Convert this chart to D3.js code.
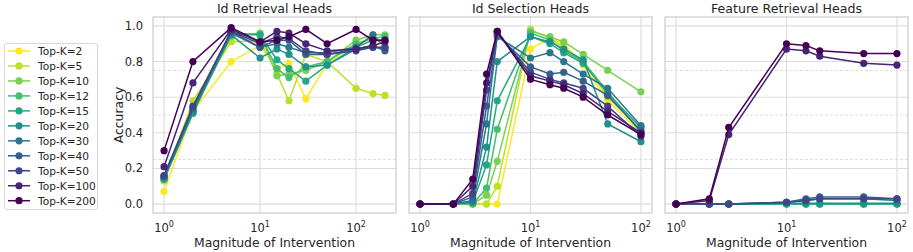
<!DOCTYPE html>
<html>
<head>
<meta charset="utf-8">
<script src="https://cdn.jsdelivr.net/npm/d3@7"></script>
<style>
body{margin:0;background:#fff;}
text{font-family:"DejaVu Sans",sans-serif;fill:#262626;}
</style>
</head>
<body>
<svg id="chart" width="913" height="252"></svg>
<script>
// series labels (legend order)
var topK = ["Top-K=2","Top-K=5","Top-K=10","Top-K=12","Top-K=15","Top-K=20","Top-K=30","Top-K=40","Top-K=50","Top-K=100","Top-K=200"];

// x values (magnitude of intervention) per panel
var xRetrieval = [1,2,5,10,15,20,30,50,100,150,200];
var xSelection = [1,2,3,4,5,10,15,20,30,50,100];
var xFeature   = [1,2,3,10,15,20,50,100];

// accuracy, one row per Top-K
var idRetrieval = [
  [0.07,0.52,0.80,0.89,0.76,0.79,0.59,0.79,0.90,0.92,0.90],
  [0.13,0.58,0.91,0.92,0.73,0.58,0.84,0.80,0.65,0.62,0.61],
  [0.14,0.52,0.94,0.96,0.72,0.73,0.75,0.80,0.92,0.95,0.95],
  [0.14,0.51,0.95,0.95,0.76,0.71,0.77,0.80,0.90,0.93,0.94],
  [0.14,0.51,0.96,0.95,0.81,0.76,0.69,0.78,0.88,0.92,0.92],
  [0.15,0.52,0.95,0.82,0.87,0.84,0.77,0.78,0.87,0.88,0.87],
  [0.15,0.53,0.96,0.88,0.90,0.88,0.85,0.85,0.88,0.95,0.88],
  [0.16,0.54,0.97,0.88,0.92,0.92,0.84,0.84,0.87,0.89,0.86],
  [0.16,0.55,0.97,0.90,0.94,0.93,0.86,0.84,0.86,0.88,0.88],
  [0.21,0.68,0.98,0.91,0.97,0.96,0.90,0.86,0.87,0.89,0.91],
  [0.30,0.80,0.99,0.91,0.92,0.94,0.98,0.90,0.98,0.92,0.92]
];
var idSelection = [
  [0,0,0,0,0,0.87,0.93,0.90,0.78,0.58,0.40],
  [0,0,0,0,0.10,0.98,0.93,0.88,0.80,0.60,0.42],
  [0,0,0,0.05,0.24,0.97,0.94,0.91,0.84,0.75,0.63],
  [0,0,0,0.09,0.42,0.96,0.92,0.86,0.80,0.63,0.40],
  [0,0,0.01,0.22,0.58,0.94,0.90,0.85,0.79,0.62,0.43],
  [0,0,0.01,0.32,0.80,0.94,0.91,0.87,0.81,0.45,0.35],
  [0,0,0.02,0.45,0.94,0.82,0.85,0.80,0.73,0.65,0.44],
  [0,0,0.04,0.55,0.95,0.77,0.73,0.74,0.69,0.61,0.41],
  [0,0,0.06,0.64,0.96,0.74,0.70,0.68,0.65,0.55,0.38],
  [0,0,0.10,0.68,0.97,0.72,0.69,0.67,0.62,0.52,0.40],
  [0,0,0.14,0.73,0.97,0.70,0.67,0.65,0.60,0.50,0.39]
];
var featureRetrieval = [
  [0,0,0,0,0,0,0,0],
  [0,0,0,0,0,0,0,0],
  [0,0,0,0,0,0,0,0],
  [0,0,0,0,0,0,0,0],
  [0,0,0,0,0,0,0,0],
  [0,0,0,0.005,0.005,0.005,0.005,0.005],
  [0,0,0,0.01,0.02,0.03,0.03,0.02],
  [0,0,0,0.01,0.03,0.04,0.04,0.03],
  [0,0,0,0.01,0.02,0.03,0.03,0.03],
  [0,0.02,0.39,0.87,0.86,0.83,0.79,0.78],
  [0,0.03,0.43,0.90,0.89,0.86,0.845,0.845]
];

var titles = ["Id Retrieval Heads","Id Selection Heads","Feature Retrieval Heads"];
var yTicks = [0,0.2,0.4,0.6,0.8,1.0];
var yMinor = [0.25,0.5,0.75];
var xTicks = [1,10,100];

var svg = d3.select("#chart");
var color = function(i){ return d3.interpolateViridis(1 - i/(topK.length-1)); };

var yTop = 17, yBottom = 213, pw = 243;
var y = d3.scaleLinear().domain([-0.05,1.05]).range([yBottom, yTop]);

var panels = [
  {left:153, xs:xRetrieval, ys:idRetrieval},
  {left:409, xs:xSelection, ys:idSelection},
  {left:665, xs:xFeature, ys:featureRetrieval}
];

panels.forEach(function(p, pi){
  var lo = Math.log10(d3.min(p.xs)), hi = Math.log10(d3.max(p.xs));
  var pad = 0.05*(hi-lo);
  var x = d3.scaleLog().domain([Math.pow(10,lo-pad), Math.pow(10,hi+pad)]).range([p.left, p.left+pw]);
  var g = svg.append("g");

  // grid
  g.selectAll(".ymin").data(yMinor).enter().append("line")
    .attr("x1",p.left).attr("x2",p.left+pw).attr("y1",y).attr("y2",y)
    .attr("stroke","#d4d4d4").attr("stroke-width",0.8).attr("stroke-dasharray","3,2");
  g.selectAll(".ymaj").data(yTicks).enter().append("line")
    .attr("x1",p.left).attr("x2",p.left+pw).attr("y1",y).attr("y2",y)
    .attr("stroke","#dcdcdc").attr("stroke-width",1.1);
  g.selectAll(".xmaj").data(xTicks).enter().append("line")
    .attr("x1",x).attr("x2",x).attr("y1",yTop).attr("y2",yBottom)
    .attr("stroke","#dcdcdc").attr("stroke-width",1.1);

  // frame
  g.append("rect").attr("x",p.left).attr("y",yTop).attr("width",pw).attr("height",yBottom-yTop)
    .attr("fill","none").attr("stroke","#cccccc").attr("stroke-width",1.2);

  // series
  var line = d3.line().x(function(d){return x(d[0]);}).y(function(d){return y(d[1]);});
  p.ys.forEach(function(row, si){
    var pts = row.map(function(v,j){ return [p.xs[j], v]; });
    var sg = g.append("g");
    sg.append("path").datum(pts).attr("d",line).attr("fill","none")
      .attr("stroke",color(si)).attr("stroke-width",1.5);
    sg.selectAll("circle").data(pts).enter().append("circle")
      .attr("cx",function(d){return x(d[0]);}).attr("cy",function(d){return y(d[1]);})
      .attr("r",3.6).attr("fill",color(si));
  });

  // x tick labels 10^n
  var xl = g.selectAll(".xt").data(xTicks).enter().append("text")
    .attr("x",x).attr("y",232).attr("text-anchor","middle").style("font-size","11.5px");
  xl.append("tspan").text("10");
  xl.append("tspan").attr("dy",-5).style("font-size","8px").text(function(d){return Math.round(Math.log10(d));});

  g.append("text").attr("x",p.left+pw/2).attr("y",247).attr("text-anchor","middle")
    .style("font-size","12.4px").text("Magnitude of Intervention");
  g.append("text").attr("x",p.left+pw/2).attr("y",13).attr("text-anchor","middle")
    .style("font-size","12.6px").text(titles[pi]);

  if(pi==0){
    g.selectAll(".yt").data(yTicks).enter().append("text")
      .attr("x",143).attr("y",function(d){return y(d)+4;}).attr("text-anchor","end")
      .style("font-size","11.5px").text(function(d){return d.toFixed(1);});
    g.append("text").attr("transform","translate(123,"+((yTop+yBottom)/2)+") rotate(-90)")
      .attr("text-anchor","middle").style("font-size","12.4px").text("Accuracy");
  }
});

// legend
var lg = svg.append("g");
lg.append("rect").attr("x",4.5).attr("y",43.5).attr("width",93).attr("height",166).attr("rx",2.5)
  .attr("fill","#fff").attr("stroke","#d8d8d8");
var items = lg.selectAll(".li").data(topK).enter().append("g")
  .attr("transform",function(d,i){return "translate(0,"+(51+i*14.97)+")";});
items.append("line").attr("x1",8).attr("x2",30).attr("stroke",function(d,i){return color(i);}).attr("stroke-width",1.5);
items.append("circle").attr("cx",19).attr("r",3.6).attr("fill",function(d,i){return color(i);});
items.append("text").attr("x",38).attr("y",3.8).style("font-size","10.6px").text(function(d){return d;});
</script>
</body>
</html>
